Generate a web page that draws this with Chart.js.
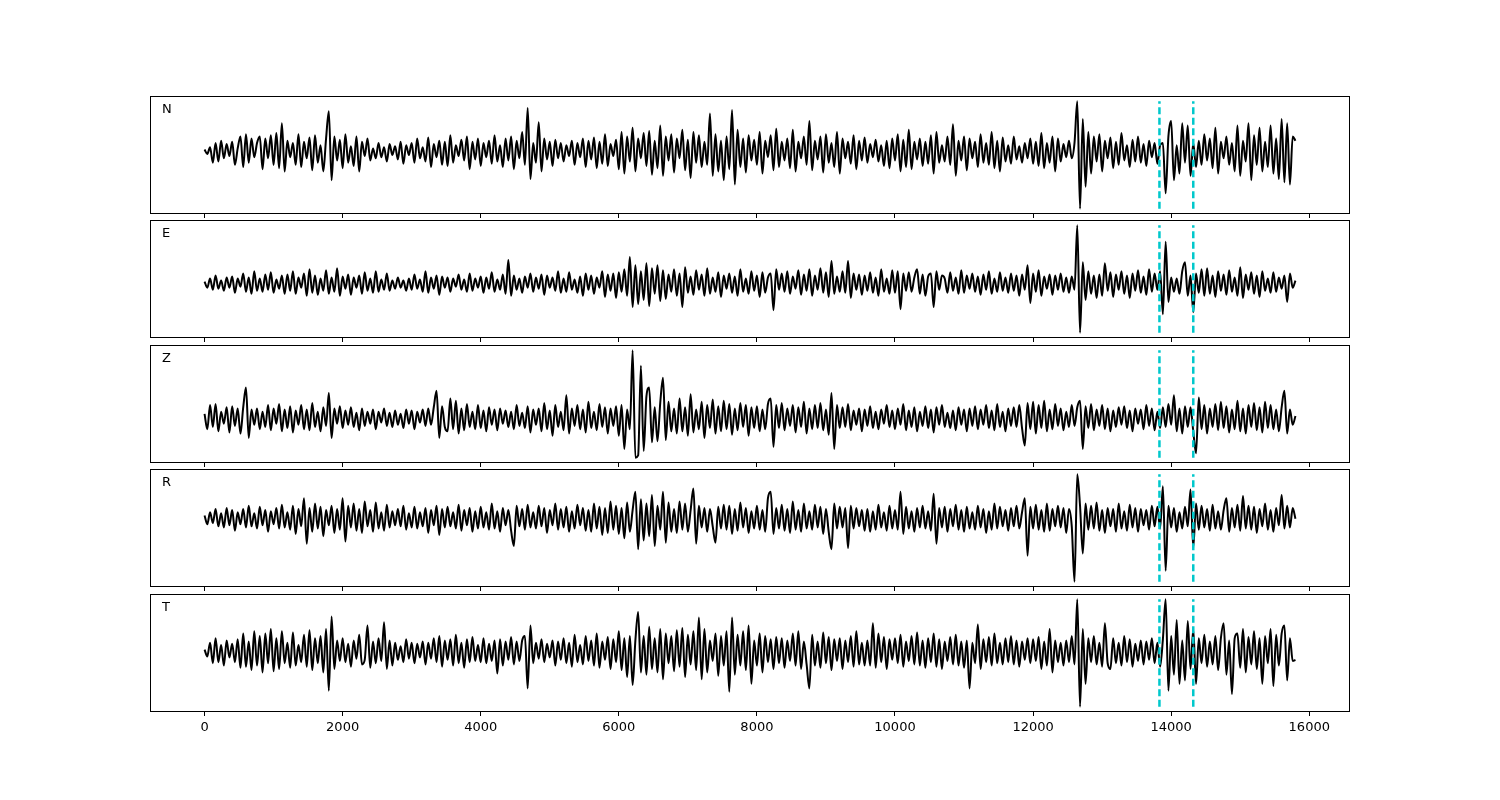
<html>
<head>
<script src="https://cdn.jsdelivr.net/npm/chart.js@4.4.0/dist/chart.umd.min.js"></script>
<style>
    body { margin: 0; background: #fff; width: 1500px; height: 800px; position: relative; overflow: hidden; }
    .panel { position: absolute; left: 140px; }
    .chan { position: absolute; left: 162px; font: 13px 'DejaVu Sans', sans-serif; color: #000; line-height: 13px; }
</style>
</head>
<body>
<script>
    // sample spacing of the values below (trace runs 0 .. 15800)
    const STEP = 40;
    const channels = ['N', 'E', 'Z', 'R', 'T'];
    const picks = [13830, 14320];
    const xTicks = [0, 2000, 4000, 6000, 8000, 10000, 12000, 14000, 16000];

    const traceN = [
        2,-2,4,-10,8,-9,10,-6,7,-4,
        9,-12,3,14,-14,16,-10,12,-5,8,
        14,-16,12,-6,15,-12,17,-15,26,-18,
        10,-5,8,-12,16,-14,9,-6,13,-17,
        15,-10,6,-18,12,37,-26,14,-8,11,
        -15,16,-10,5,-13,14,-18,9,-4,12,
        -8,3,-6,8,-5,4,-9,7,-3,5,
        -7,9,-11,6,-3,8,-10,12,-6,4,
        -9,13,-14,7,-5,10,-12,9,-13,15,
        -10,6,-4,11,-8,14,-16,9,-7,12,
        -13,8,-5,10,-11,15,-9,6,-14,12,
        -8,14,-16,10,-6,18,-12,40,-25,8,
        -10,27,-18,12,-7,9,-13,11,-6,8,
        -9,6,-4,10,-12,8,-5,12,-14,10,
        -7,13,-15,9,-11,16,-13,7,-4,11,
        -16,18,-20,14,-9,22,-18,12,-6,17,
        -13,19,-21,10,-15,24,-22,14,-8,16,
        -19,12,-6,20,-17,11,-24,18,-10,15,
        -14,9,-12,35,-22,16,-18,10,-26,14,
        -16,38,-30,20,-14,12,-19,15,-8,11,
        -12,18,-20,10,-5,15,-17,21,-14,9,
        -8,12,-15,20,-18,9,-6,14,-12,28,
        -17,10,-7,14,-19,16,-10,8,-14,18,
        -20,12,-6,9,-11,15,-16,10,-8,13,
        -10,7,-5,11,-9,6,-13,10,-15,12,
        -8,16,-18,11,-14,20,-16,9,-7,12,
        -13,9,-11,15,-20,18,-10,6,-9,14,
        -12,25,-22,10,-8,14,-17,12,-6,9,
        -14,16,-10,8,-12,18,-15,10,-18,13,
        -9,6,-11,14,-7,5,-10,8,-6,12,
        -11,9,-13,17,-15,8,-10,14,-18,12,
        -9,7,-5,10,-6,8,46,-52,30,-32,
        18,-20,14,-9,16,-18,10,-6,13,-15,
        9,-12,17,-8,6,-14,11,-9,14,-10,
        7,-13,10,-5,8,-11,6,8,-38,14,
        28,-26,6,-20,26,-10,24,-22,8,-14,
        10,-12,16,-8,12,-15,22,-20,9,-6,
        14,-12,8,-18,24,-22,10,-9,26,-26,
        15,-12,22,-18,9,-14,24,-20,12,-25,
        30,-28,26,-30,14,10
    ];

    const traceE = [
        2,-4,5,-6,8,-5,3,-7,6,-4,
        7,-9,5,-3,10,-8,6,-10,12,-7,
        5,-8,9,-6,11,-9,4,-5,8,-10,
        9,-7,12,-10,6,-4,10,-12,14,-9,
        8,-11,5,-7,13,-10,6,-8,15,-12,
        7,-5,9,-11,6,-4,8,-10,11,-7,
        5,-9,12,-8,4,-6,10,-7,3,-5,
        6,-4,3,-7,5,-6,9,-5,4,-8,
        12,-9,6,-5,8,-11,7,-4,6,-8,
        5,-3,9,-6,4,-8,10,-7,5,-4,
        7,-9,6,-5,11,-8,4,-6,9,-10,
        23,-12,8,-6,5,-9,7,-4,10,-8,
        6,-5,9,-11,8,-4,6,-7,12,-9,
        5,-8,11,-6,4,-9,7,-12,10,-6,
        8,-10,6,-4,12,-13,9,-7,10,-14,
        11,-8,14,-12,26,-23,18,-20,12,-16,
        20,-22,15,-10,18,-17,13,-15,9,-8,
        14,-12,10,-23,16,-9,7,-11,13,-6,
        9,-12,15,-10,6,-8,11,-13,8,-5,
        10,-9,7,-12,14,-8,5,-10,12,-7,
        8,-13,11,-9,6,10,-26,14,-6,10,
        -8,12,-10,7,-5,13,-11,9,-7,14,
        -12,8,-6,15,-9,11,-13,22,-10,7,
        -8,12,-9,22,-14,10,-6,9,-11,8,
        -7,11,-9,6,-12,14,-8,5,-10,13,
        -9,12,-25,10,-7,11,-8,6,14,-10,
        9,-12,7,10,-23,12,-6,8,5,-9,
        11,-7,6,-10,13,-9,8,-5,10,-8,
        7,-11,9,-6,12,-10,5,-8,11,-7,
        6,-9,10,-7,8,-12,9,-6,18,-19,
        10,-8,13,-12,7,-5,9,-11,8,-6,
        10,-8,6,-9,7,-6,57,-48,21,-16,
        12,-10,8,-14,9,-12,20,-7,11,-13,
        9,-6,12,-10,8,-14,10,-7,13,-9,
        7,-11,14,-8,10,-6,12,-30,41,-18,
        6,-8,5,-10,12,21,-12,8,-28,10,
        -9,14,-12,15,-10,8,-13,12,-7,9,
        -11,13,-8,6,-12,16,-14,9,-6,11,
        -10,8,-13,12,-7,5,-9,11,-8,6,
        -5,8,-18,10,-4,3
    ];

    const traceZ = [
        4,-10,12,-8,13,-12,6,-5,10,-13,
        11,-7,9,-14,10,28,-18,8,-6,9,
        -10,6,-8,12,-11,9,-5,13,-12,8,
        -9,11,-13,7,-6,12,-10,8,-11,14,
        -8,6,-12,10,-7,23,-18,9,-5,11,
        -9,7,-6,10,-8,5,-11,9,-7,6,
        -5,8,-10,6,-4,9,-7,5,-8,7,
        -6,4,-9,8,-5,7,-10,6,-4,8,
        -7,9,-6,10,25,-18,11,-8,-12,18,
        -10,16,-14,9,-11,13,-8,6,-10,12,
        -9,7,-12,10,-6,8,-11,9,-5,7,
        -8,6,-10,12,-7,5,-9,11,-13,8,
        -6,9,-12,14,-10,7,-16,12,-8,6,
        -11,21,-14,9,-7,12,-10,8,-13,15,
        -9,6,-11,13,-8,10,-14,9,-7,11,
        -16,12,-28,8,-10,62,-36,-34,48,-30,
        20,28,-22,10,-21,14,37,-20,15,-12,
        9,-14,18,-12,10,-16,22,-13,8,-10,
        15,-18,12,-9,17,-14,11,-12,16,-10,
        13,-15,9,-11,14,-8,12,-16,10,-9,
        11,-12,8,-10,13,18,-26,12,-9,14,
        -11,9,-7,12,-13,10,-8,15,-14,9,
        -10,12,-9,14,-11,8,-15,23,-28,12,
        -9,10,-8,13,-11,7,-6,9,-12,8,
        -7,11,-9,6,-10,8,-5,12,-8,7,
        -10,9,-6,13,-11,7,-8,10,-12,6,
        -7,11,-9,8,-13,10,-6,12,-8,5,
        -9,7,-11,10,-6,8,-12,9,-7,11,
        -10,8,-6,12,-9,7,-11,13,-8,6,
        -12,9,-7,10,-8,12,-9,-25,14,-10,
        15,-14,12,-9,16,-12,8,-10,13,-7,
        9,-11,6,-8,12,-7,10,16,-28,11,
        -9,13,-11,8,-7,12,-10,9,-12,7,
        -8,10,-6,11,-9,7,-12,9,-5,8,
        -10,12,-7,9,-11,6,-9,10,-8,13,
        -6,21,-12,9,-14,11,-8,10,-12,-32,
        19,-10,12,-14,9,-8,13,-11,15,-9,
        11,-13,8,-10,16,-12,9,-14,12,-8,
        14,-11,10,-13,15,-9,12,-10,8,-12,
        10,25,-14,8,-6,2
    ];

    const traceR = [
        3,-5,6,-4,9,-7,5,-8,10,-6,
        8,-11,6,-5,9,-8,12,-7,5,-9,
        11,-6,8,-12,7,-5,10,-9,13,-8,
        6,-10,12,-14,9,-7,19,-23,10,-12,
        14,-9,11,-16,8,-6,12,-13,9,-10,
        19,-21,12,-8,14,-11,9,-13,16,-7,
        8,-12,15,-9,6,-11,13,-8,7,-6,
        9,-7,12,-10,5,-8,11,-9,6,-7,
        10,-13,8,-6,12,-15,9,-8,11,-7,
        6,-9,13,-11,8,-6,10,-12,7,-9,
        11,-8,6,-10,14,-9,7,-12,10,-6,
        8,-11,-25,12,-7,9,-10,13,-8,6,
        -9,12,-7,10,-13,8,-6,14,-10,9,
        -8,11,-12,7,-9,13,-6,10,-11,8,
        -12,14,-9,11,-15,10,-13,16,-10,12,
        -14,10,-18,15,-12,8,25,-28,18,-20,
        14,-16,22,-25,12,-10,25,-22,15,-12,
        9,-13,16,-10,14,-12,8,28,-23,12,
        -8,10,-12,9,-7,-22,11,-9,13,-10,
        12,-14,9,-11,15,-8,10,-13,7,-9,
        12,-10,8,-12,19,25,-14,10,-9,13,
        -11,9,-13,16,-10,8,-12,14,-9,7,
        -10,13,-8,11,-14,9,-12,-28,14,-9,
        11,-8,10,-27,12,-9,10,-7,8,-11,
        9,-12,7,-10,13,-8,6,-11,12,-9,
        8,-10,25,-14,11,-9,7,-12,10,-8,
        12,-9,7,-11,23,-23,10,-8,11,-12,
        9,-7,13,-10,8,-12,11,-9,6,-10,
        12,-8,9,-13,7,-10,14,-9,11,-7,
        8,-11,10,-7,12,-9,6,19,-34,11,
        -9,13,-10,8,-12,14,-11,9,-7,12,
        -8,10,-13,9,-7,-58,41,12,-32,14,
        -10,12,-9,15,-11,8,-13,10,-7,9,
        -12,14,-9,7,-11,13,-8,10,-12,9,
        -6,8,-10,12,-7,11,-9,30,-48,12,
        -8,10,-12,6,-9,11,-7,27,-27,14,
        -10,12,-8,9,-11,13,-9,7,-10,8,
        19,-12,10,-8,13,-11,21,-9,12,-10,
        11,-13,9,-7,14,-10,8,-12,10,-6,
        22,-9,12,-8,10,0
    ];

    const traceT = [
        2,-4,8,-10,12,-9,6,-12,10,-5,
        7,-9,11,-14,16,-13,9,-16,18,-12,
        14,-18,16,-10,20,-17,12,-15,18,-10,
        8,-14,17,-12,6,-9,15,-13,19,-16,
        12,-10,14,-18,20,-34,31,-15,10,-8,
        12,-9,7,-13,10,-6,15,-11,-7,23,
        -14,9,-10,12,-8,26,-15,10,-12,8,
        -7,5,-9,11,-6,8,-10,7,-5,9,
        -11,8,-6,12,-9,14,-13,10,-7,11,
        -12,15,-10,8,-14,11,-9,13,-8,6,
        -9,12,-10,7,-8,10,-19,11,-12,9,
        -7,13,-11,9,-8,10,14,-32,23,-10,
        8,-6,11,-9,7,-5,10,-12,9,-7,
        12,-10,8,-13,15,-9,6,-11,14,-8,
        10,-12,16,-14,9,-7,13,-15,11,-9,
        18,-16,12,-22,14,-29,10,35,-18,14,
        -20,22,-15,12,-18,20,-24,16,-10,14,
        -17,19,-13,21,-22,15,-11,18,-16,30,
        -24,20,-18,10,-8,16,-21,14,-12,18,
        -35,30,-20,15,-12,18,-16,23,-28,10,
        -12,16,-18,14,-9,11,-15,13,-10,12,
        -14,10,-8,16,-12,18,-15,9,-11,-32,
        15,-12,9,-14,17,-10,13,-16,11,-8,
        12,-15,10,-9,14,-13,18,-11,8,-12,
        10,-12,25,-14,16,-9,13,-15,11,-7,
        12,-10,15,-13,9,-8,14,-11,17,-12,
        10,-14,12,-9,16,-13,11,-15,9,-8,
        13,-11,15,-12,9,-14,10,-32,8,-10,
        24,-15,11,-9,13,-12,16,-10,8,-11,
        12,-9,14,-11,10,-13,9,-7,12,-10,
        11,-8,13,-15,9,-12,20,-18,10,-9,
        8,-12,10,-9,14,-11,46,-48,20,-28,
        12,-9,14,-11,8,-13,25,-10,-15,12,
        -10,8,-12,14,-9,11,-13,7,-8,10,
        -11,9,-7,12,-10,8,-13,11,46,-34,
        14,-20,28,-28,10,-25,27,-15,20,-28,
        12,-10,15,-13,9,-11,14,-16,12,25,
        -20,10,-37,12,16,-14,20,-18,13,-11,
        18,-15,12,-28,14,-10,20,-30,15,-12,
        16,23,-25,12,-8,-7
    ];

    const traces = [traceN, traceE, traceZ, traceR, traceT];

    const framePlugin = {
        id: 'frame',
        afterDraw(chart) {
            const a = chart.chartArea;
            const ctx = chart.ctx;
            ctx.save();
            ctx.strokeStyle = '#000';
            ctx.lineWidth = 1;
            ctx.strokeRect(Math.round(a.left) + 0.5, Math.round(a.top) + 0.5,
                Math.round(a.right - a.left) - 1, Math.round(a.bottom - a.top) - 1);
            ctx.restore();
        }
    };

    function makePanel(k) {
        const values = traces[k];
        const isLast = k === traces.length - 1;
        const top = Math.round(96 + k * 124.4);
        const axisH = isLast ? 30 : 5;

        const wrap = document.createElement('div');
        wrap.className = 'panel';
        wrap.style.top = (top - 2) + 'px';
        const canvas = document.createElement('canvas');
        canvas.width = 1220;
        canvas.height = 2 + 118 + axisH;
        wrap.appendChild(canvas);
        document.body.appendChild(wrap);

        const label = document.createElement('div');
        label.className = 'chan';
        label.style.top = (top + 6) + 'px';
        label.textContent = channels[k];
        document.body.appendChild(label);

        const lo = Math.min(...values);
        const hi = Math.max(...values);
        const pad = 0.05 * (hi - lo);

        const datasets = [{
            data: values.map((v, i) => ({ x: i * STEP, y: v })),
            borderColor: '#000',
            borderWidth: 2,
            pointRadius: 0,
            cubicInterpolationMode: 'monotone',
            order: 2
        }];
        picks.forEach(t => datasets.push({
            data: [{ x: t, y: lo }, { x: t, y: hi }],
            borderColor: '#00c8cc',
            borderWidth: 2.5,
            borderDash: [7, 3.5],
            pointRadius: 0,
            order: 1
        }));

        new Chart(canvas, {
            type: 'line',
            data: { datasets },
            plugins: [framePlugin],
            options: {
                responsive: false,
                animation: false,
                devicePixelRatio: 1,
                layout: { padding: { left: 10, right: 10, top: 2, bottom: 0 } },
                plugins: { legend: { display: false }, tooltip: { enabled: false } },
                scales: {
                    x: {
                        type: 'linear',
                        min: -790,
                        max: 16590,
                        afterBuildTicks(scale) {
                            scale.ticks = xTicks.map(v => ({ value: v }));
                        },
                        ticks: {
                            display: isLast,
                            autoSkip: false,
                            color: '#000',
                            padding: 4,
                            maxRotation: 0,
                            font: { family: 'DejaVu Sans', size: 13 },
                            callback: v => String(v)
                        },
                        grid: {
                            drawOnChartArea: false,
                            drawTicks: true,
                            tickLength: 4,
                            color: '#000',
                            lineWidth: 1
                        },
                        border: { display: false },
                        afterFit(scale) { scale.height = axisH; }
                    },
                    y: {
                        display: false,
                        min: lo - pad,
                        max: hi + pad
                    }
                }
            }
        });
    }

    for (let k = 0; k < traces.length; k++) {
        makePanel(k);
    }
</script>
</body>
</html>
